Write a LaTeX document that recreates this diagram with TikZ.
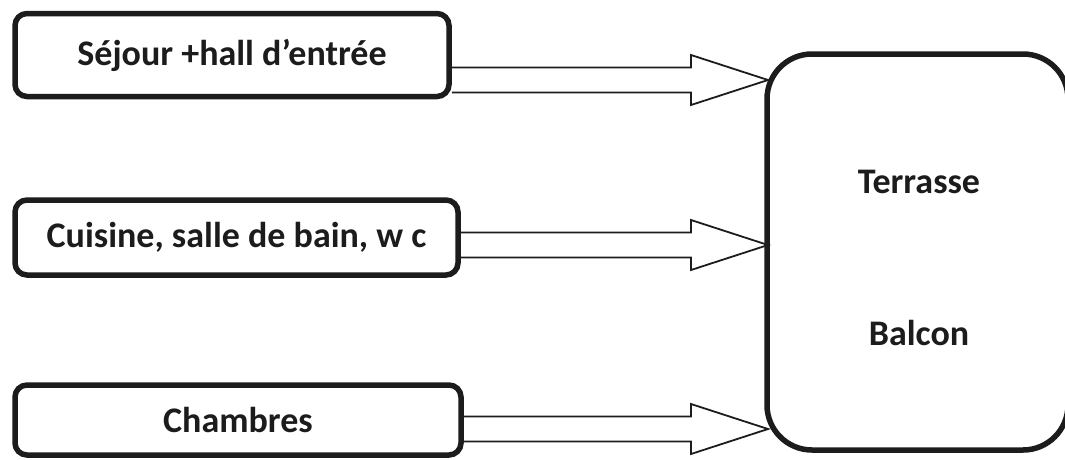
\documentclass[tikz,border=0pt]{standalone}
\usepackage{fontspec}
\setmainfont{Carlito}
\usetikzlibrary{calc}
\definecolor{ink}{HTML}{1C1C1C}

% block arrow from the right side of a room box to a tip coordinate
\newcommand\blockarrow[2]{%
  \draw[arrowline]
    ($(#1.east |- #2)+(0,-12.5)$) -- ($(#2)+(-77,-12.5)$) --
    ($(#2)+(-77,-25)$) -- (#2) -- ($(#2)+(-77,25)$) --
    ($(#2)+(-77,12.5)$) -- ($(#1.east |- #2)+(0,12.5)$);}

\begin{document}
\begin{tikzpicture}[x=1pt,y=-1pt,
  room/.style={draw=ink, line width=5.5pt, rounded corners=12pt, fill=white,
    inner sep=0pt, font=\fontsize{36}{40}\selectfont\bfseries, text=ink},
  outdoor/.style={draw=ink, line width=5.5pt, rounded corners=45pt, fill=white,
    inner sep=0pt},
  label/.style={font=\fontsize{36}{40}\selectfont\bfseries, text=ink, inner sep=0pt},
  arrowline/.style={draw=ink, line width=1.8pt, line join=miter}]
  \useasboundingbox (0,0) rectangle (1065,459);
  \clip (0,0) rectangle (1065,459);

  % rooms
  \node[room, minimum width=434pt, minimum height=83pt] (s1) at (232,55)
    {Séjour +hall d’entrée};
  \node[room, minimum width=443pt, minimum height=75pt] (s2) at (236.5,237.5)
    {Cuisine, salle de bain, w c};
  \node[room, minimum width=446pt, minimum height=70pt] (s3) at (238,420)
    {Chambres};

  % outdoor spaces
  \node[outdoor, minimum width=301pt, minimum height=396pt] (T) at (917.5,252) {};
  \node[label] (terrasse) at (919,182) {Terrasse};
  \node[label] (balcon) at (919,333) {Balcon};

  % arrow tips on the outdoor box
  \coordinate (tip1) at (768,80);
  \coordinate (tip2) at (768,245);
  \coordinate (tip3) at (768,429);

  \blockarrow{s1}{tip1}
  \blockarrow{s2}{tip2}
  \blockarrow{s3}{tip3}
\end{tikzpicture}
\end{document}
